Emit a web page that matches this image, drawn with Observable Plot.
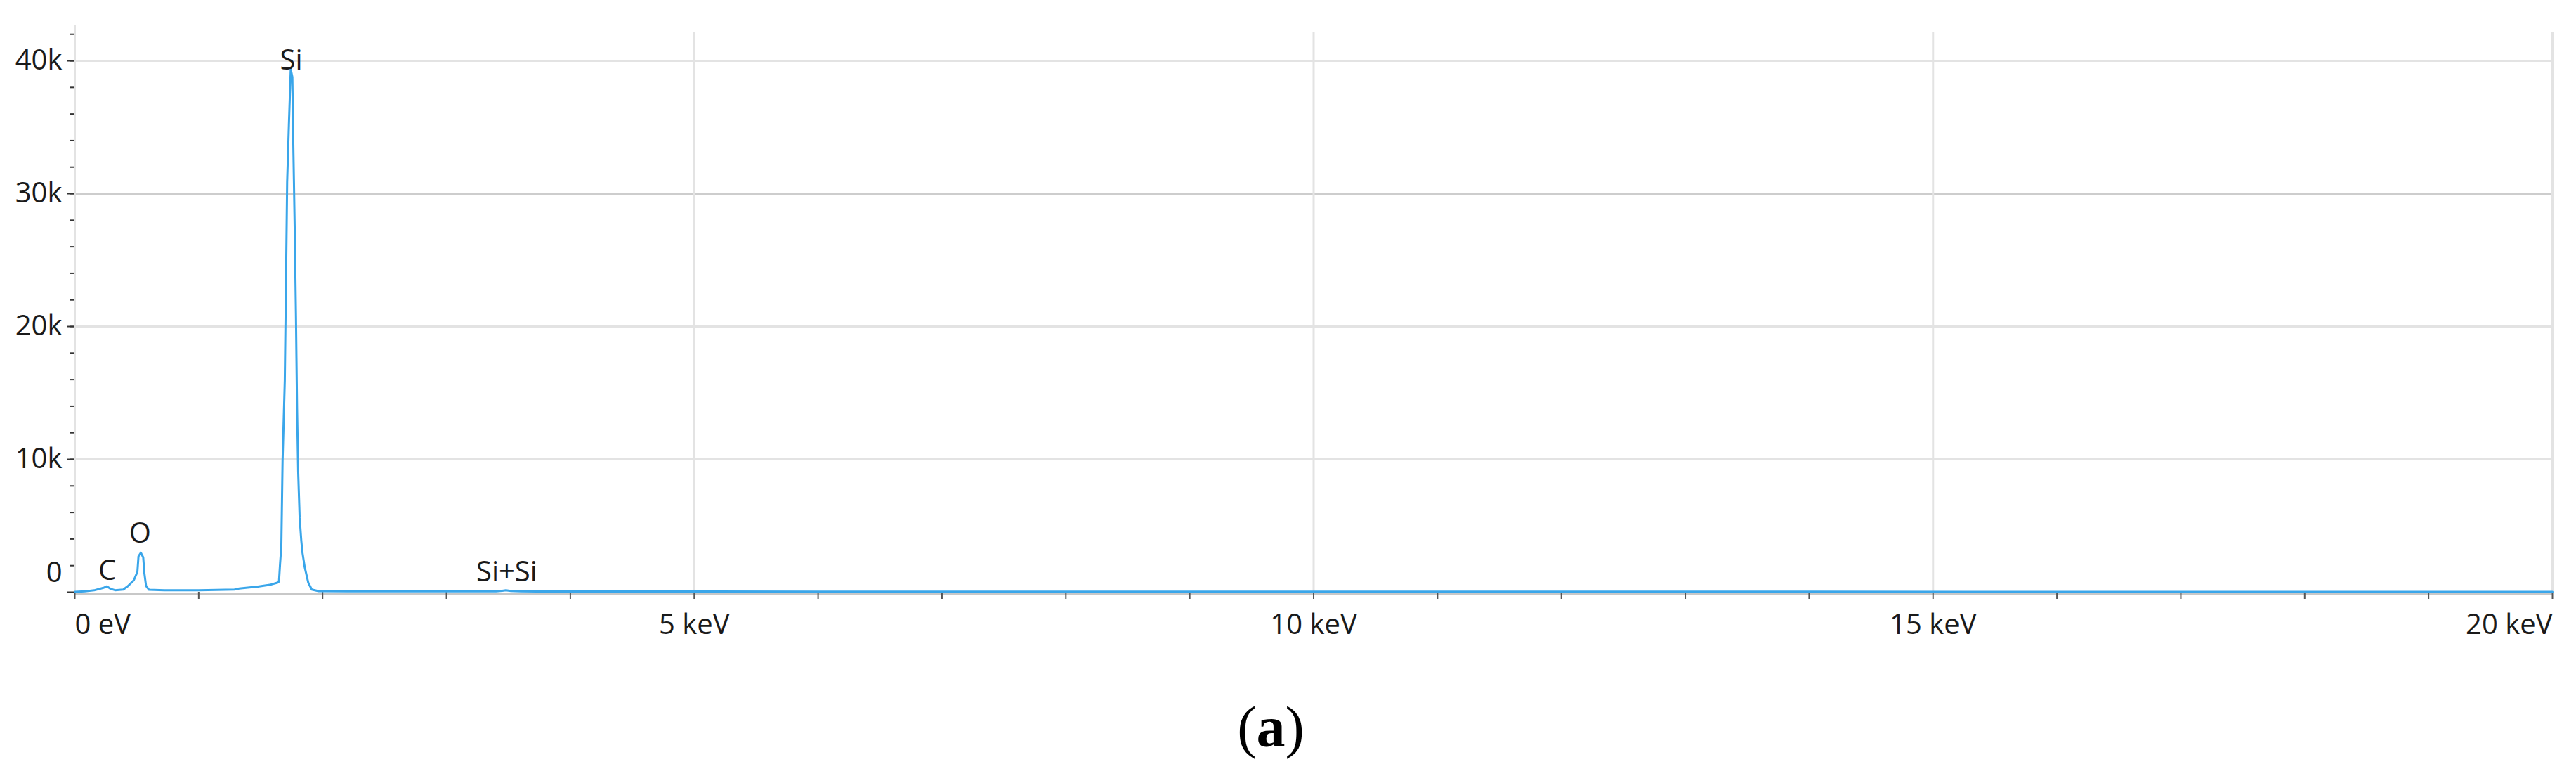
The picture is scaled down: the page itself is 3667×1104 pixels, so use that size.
<!DOCTYPE html>
<html>
<head>
<meta charset="utf-8">
<script src="https://cdn.jsdelivr.net/npm/d3@7"></script>
<script src="https://cdn.jsdelivr.net/npm/@observablehq/plot@0.6"></script>
<style>
  html, body { margin: 0; padding: 0; background: #fff; }
  #chart { width: 3667px; }
  #caption { position: relative; width: 3667px; height: 144px; }
  #caption span { position: absolute; left: 1809px; top: 34px; transform: translateX(-50%);
    font-family: "Liberation Serif", "Times New Roman", serif; font-weight: normal; font-size: 82px; line-height: 82px; color: #000; }
  #caption b { font-weight: bold; }
</style>
</head>
<body>
<div id="chart"></div>
<div id="caption"><span>(<b>a</b>)</span></div>
<script>
// Spectrum (energy in keV, counts)
const energy = [0, 0.08, 0.155, 0.20, 0.231, 0.259, 0.287, 0.325, 0.391, 0.429, 0.476, 0.505, 0.514, 0.533, 0.552, 0.562, 0.575, 0.599, 0.722, 1.0, 1.289, 1.327, 1.478, 1.573, 1.639, 1.648, 1.657, 1.667, 1.677, 1.695, 1.705, 1.714, 1.728, 1.743, 1.756, 1.762, 1.775, 1.785, 1.794, 1.803, 1.815, 1.828, 1.837, 1.856, 1.884, 1.913, 1.968, 2.2, 3.0, 3.40, 3.45, 3.48, 3.52, 3.6, 4.5, 6, 8, 10, 12, 14, 16, 18, 20];
const counts = [20, 60, 140, 250, 330, 440, 260, 150, 200, 460, 900, 1530, 2700, 2970, 2620, 1380, 470, 180, 140, 150, 200, 280, 420, 550, 730, 800, 2160, 3440, 9900, 15940, 23700, 30900, 35190, 39350, 38780, 34600, 27400, 20820, 13790, 9050, 5600, 3880, 3010, 1870, 730, 200, 80, 70, 60, 70, 110, 150, 90, 60, 50, 45, 40, 40, 35, 35, 30, 30, 30];

// Peak labels
const peakNames = ["C", "O", "Si", "Si+Si"];
const peakEnergy = [0.261, 0.527, 1.747, 3.487];
const peakLabelCounts = [1590, 4400, 40000, 1480];

// Axes
const yMajor = [0, 10000, 20000, 30000, 40000];
const yMajorLabels = ["0", "10k", "20k", "30k", "40k"];
const yMinor = d3.range(2000, 42001, 2000);
const xMajor = [0, 5, 10, 15, 20];
const xMajorLabels = ["0 eV", "5 keV", "10 keV", "15 keV", "20 keV"];
const xMinor = d3.range(0, 21, 1);

const spectrum = energy.map((e, i) => ({e, c: counts[i]}));
const peaks = peakNames.map((n, i) => ({n, e: peakEnergy[i], c: peakLabelCounts[i]}));
const xLab = xMajor.map((v, i) => ({v, t: xMajorLabels[i], i}));
const yLab = yMajor.map((v, i) => ({v, t: yMajorLabels[i]}));

const font = "'Open Sans', 'Noto Sans', sans-serif";
const textColor = "#1a1a1a";

const chart = Plot.plot({
  width: 3667,
  height: 960,
  marginLeft: 106,
  marginRight: 34,
  marginTop: 35,
  marginBottom: 118,
  style: {fontFamily: font, fontSize: "40px", color: textColor, background: "#fff"},
  x: {domain: [0, 20]},
  y: {domain: [0, 42700]},
  marks: [
    // horizontal gridlines
    Plot.ruleY(yMajor.filter(v => v > 0), {stroke: d => d === 30000 ? "#cdcdcd" : "#e3e3e3", strokeWidth: 3}),
    // vertical gridlines
    Plot.ruleX(xMajor, {y1: 0, y2: 42700, stroke: "#e3e3e3", strokeWidth: 3, insetBottom: -11}),
    // x axis line
    Plot.ruleY([0], {stroke: "#c8c8c8", strokeWidth: 3, dy: 2}),
    // x ticks
    Plot.axisX({ticks: xMinor, tickSize: 10, tickFormat: () => "", stroke: "#555", strokeWidth: 2}),
    // y ticks
    Plot.axisY({ticks: yMinor, tickSize: 6, tickFormat: () => "", stroke: "#333", strokeWidth: 2}),
    Plot.axisY({ticks: yMajor, tickSize: 11, tickFormat: () => "", stroke: "#333", strokeWidth: 2}),
    // y labels
    Plot.text(yLab.filter(d => d.v > 0), {x: 0, y: "v", text: "t", dx: -18, textAnchor: "end", fill: textColor, fontSize: 40}),
    Plot.text(yLab.filter(d => d.v === 0), {x: 0, y: "v", text: "t", dx: -18, dy: -27, textAnchor: "end", fill: textColor, fontSize: 40}),
    // x labels
    Plot.text(xLab.filter(d => d.i === 0), {x: "v", y: 0, text: "t", dy: 47, textAnchor: "start", fill: textColor, fontSize: 40}),
    Plot.text(xLab.filter(d => d.i > 0 && d.i < xLab.length - 1), {x: "v", y: 0, text: "t", dy: 47, textAnchor: "middle", fill: textColor, fontSize: 40}),
    Plot.text(xLab.filter(d => d.i === xLab.length - 1), {x: "v", y: 0, text: "t", dy: 47, textAnchor: "end", fill: textColor, fontSize: 40}),
    // left border
    Plot.ruleX([0], {y1: 0, y2: 42700, stroke: "#e3e3e3", strokeWidth: 3}),
    // spectrum
    Plot.lineY(spectrum, {x: "e", y: "c", stroke: "#3aa6ea", strokeWidth: 3}),
    // peak labels
    Plot.text(peaks, {x: "e", y: "c", text: "n", fill: textColor, fontSize: 40})
  ]
});
document.getElementById("chart").appendChild(chart);
</script>
</body>
</html>
